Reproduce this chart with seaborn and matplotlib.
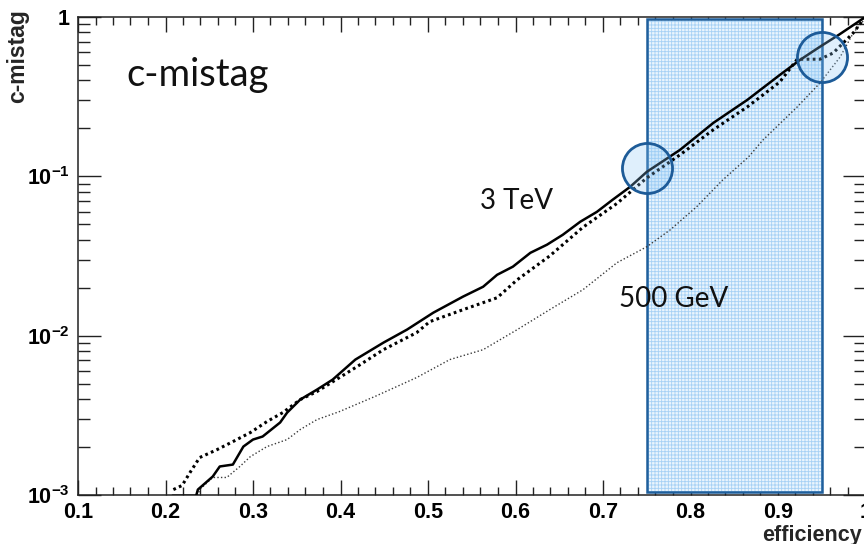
import numpy as np
import pandas as pd
import matplotlib
matplotlib.use("Agg")
import matplotlib.pyplot as plt
from matplotlib.ticker import FixedLocator, FixedFormatter, NullFormatter
import seaborn as sns

# ---- curves: c-jet mistag rate vs. tagging efficiency ----
eff_3tev = [0.208, 0.235, 0.237, 0.254, 0.262, 0.277, 0.289, 0.300, 0.311, 0.331,
            0.339, 0.354, 0.373, 0.391, 0.417, 0.449, 0.476, 0.506, 0.540, 0.563,
            0.579, 0.597, 0.617, 0.636, 0.654, 0.674, 0.693, 0.711, 0.731, 0.750,
            0.788, 0.826, 0.865, 0.902, 0.925, 0.947, 0.970, 0.999]
log_mistag_3tev = [-3.005, -3.005, -2.966, -2.884, -2.821, -2.809, -2.696, -2.652, -2.633, -2.545,
                   -2.483, -2.401, -2.339, -2.276, -2.150, -2.044, -1.962, -1.856, -1.755, -1.693,
                   -1.618, -1.567, -1.480, -1.429, -1.367, -1.285, -1.223, -1.147, -1.066, -0.972,
                   -0.834, -0.665, -0.520, -0.364, -0.270, -0.190, -0.110, -0.003]

eff_alt = [0.209, 0.219, 0.228, 0.239, 0.259, 0.277, 0.297, 0.316, 0.334, 0.354,
           0.373, 0.419, 0.449, 0.487, 0.502, 0.540, 0.579, 0.602, 0.639, 0.677,
           0.716, 0.750, 0.788, 0.826, 0.865, 0.902, 0.922, 0.948, 0.963, 0.986, 0.999]
log_mistag_alt = [-2.966, -2.940, -2.859, -2.765, -2.715, -2.665, -2.608, -2.539, -2.483, -2.401,
                  -2.351, -2.194, -2.088, -1.981, -1.912, -1.837, -1.762, -1.649, -1.500, -1.320,
                  -1.170, -1.010, -0.865, -0.708, -0.564, -0.408, -0.265, -0.265, -0.226, -0.100, -0.005]

eff_500gev = [0.237, 0.239, 0.254, 0.270, 0.285, 0.297, 0.316, 0.339, 0.354, 0.373,
              0.399, 0.440, 0.487, 0.525, 0.563, 0.602, 0.639, 0.677, 0.716, 0.750,
              0.777, 0.807, 0.837, 0.866, 0.883, 0.922, 0.948, 0.971, 0.986, 0.998]
log_mistag_500gev = [-3.005, -2.966, -2.890, -2.890, -2.821, -2.759, -2.696, -2.652, -2.589, -2.527,
                     -2.476, -2.380, -2.263, -2.150, -2.088, -1.962, -1.837, -1.712, -1.542, -1.442,
                     -1.335, -1.191, -1.022, -0.880, -0.771, -0.564, -0.414, -0.251, -0.100, -0.020]

# highlighted working-point window and the two marked points
window = [0.75, 0.95]
marked_eff = [0.75, 0.95]
marked_mistag = [0.113, 0.561]

x_ticks = [0.1, 0.2, 0.3, 0.4, 0.5, 0.6, 0.7, 0.8, 0.9, 1.0]
x_ticklabels = ["0.1", "0.2", "0.3", "0.4", "0.5", "0.6", "0.7", "0.8", "0.9", "1"]
y_ticks = [1e-3, 1e-2, 1e-1, 1.0]
y_ticklabels = [r"$\mathbf{10^{-3}}$", r"$\mathbf{10^{-2}}$", r"$\mathbf{10^{-1}}$", "1"]

sns.set_theme(style="ticks")
plt.rcParams.update({
    "font.family": ["Liberation Sans", "DejaVu Sans"],
    "mathtext.fontset": "custom",
    "mathtext.bf": "Liberation Sans:bold",
    "mathtext.rm": "Liberation Sans:bold",
    "hatch.linewidth": 0.6,
})

df_3tev = pd.DataFrame({"eff": eff_3tev, "mistag": 10 ** np.array(log_mistag_3tev)})
df_alt = pd.DataFrame({"eff": eff_alt, "mistag": 10 ** np.array(log_mistag_alt)})
df_500 = pd.DataFrame({"eff": eff_500gev, "mistag": 10 ** np.array(log_mistag_500gev)})

fig = plt.figure(figsize=(8.64, 5.44), dpi=100)
ax = fig.add_axes([78 / 864, 1 - 495 / 544, 787.5 / 864, 478 / 544])
ax.set_yscale("log")
ax.set_xlim(0.1, 1.0)
ax.set_ylim(1e-3, 1.0)

# working-point band: hatched light-blue fill plus a dark outline
ax.axvspan(window[0], window[1], ymin=0.006, ymax=0.996, facecolor="#e9f4fd",
           edgecolor="#a6d1f5", linewidth=0, hatch="+++++", zorder=1)
ax.axvspan(window[0], window[1], ymin=0.006, ymax=0.996, fill=False,
           edgecolor="#1f5f9c", linewidth=1.8, zorder=1.5)

sns.lineplot(data=df_500, x="eff", y="mistag", ax=ax, sort=False, estimator=None,
             color="#3a3a3a", linewidth=1.0, linestyle=(0, (1, 1.6)), zorder=3)
sns.lineplot(data=df_alt, x="eff", y="mistag", ax=ax, sort=False, estimator=None,
             color="black", linewidth=2.2, linestyle=(0, (0.9, 1.1)), zorder=3)
sns.lineplot(data=df_3tev, x="eff", y="mistag", ax=ax, sort=False, estimator=None,
             color="black", linewidth=1.8, linestyle="-", zorder=4)

ax.scatter(marked_eff, marked_mistag, s=1300, facecolors=[(0.55, 0.78, 0.96, 0.28)],
           edgecolors="#1d5b98", linewidths=2.0, zorder=5, clip_on=False)

ax.text(0.062, 0.879, "c-mistag", transform=ax.transAxes, family="Lato",
        fontsize=27.5, ha="left", va="center", color="#111111")
ax.text(0.557, 0.615, "3 TeV", transform=ax.transAxes, family="Lato",
        fontsize=20, ha="center", va="center", color="#111111")
ax.text(0.756, 0.410, "500 GeV", transform=ax.transAxes, family="Lato",
        fontsize=20, ha="center", va="center", color="#111111")

# ROOT-like frame: inward ticks on all four sides
ax.xaxis.set_major_locator(FixedLocator(x_ticks))
ax.xaxis.set_major_formatter(FixedFormatter(x_ticklabels))
ax.xaxis.set_minor_locator(FixedLocator(np.arange(0.12, 1.0, 0.02)))
ax.yaxis.set_major_locator(FixedLocator(y_ticks))
ax.yaxis.set_major_formatter(FixedFormatter(y_ticklabels))
minor_y = [k * 10.0 ** e for e in (-3, -2, -1) for k in range(2, 10)]
ax.yaxis.set_minor_locator(FixedLocator(minor_y))
ax.yaxis.set_minor_formatter(NullFormatter())

ax.tick_params(axis="x", which="major", direction="in", length=10.5, width=1.0,
               top=True, bottom=True, pad=5, labelsize=15.5, colors="#222222")
ax.tick_params(axis="x", which="minor", direction="in", length=5.5, width=1.0,
               top=True, bottom=True, colors="#222222")
ax.tick_params(axis="y", which="major", direction="in", length=16.5, width=1.0,
               left=True, right=True, pad=6, labelsize=15.5, colors="#222222")
ax.tick_params(axis="y", which="minor", direction="in", length=8.5, width=1.0,
               left=True, right=True, colors="#222222")
for lab in ax.get_xticklabels() + ax.get_yticklabels():
    lab.set_fontweight("bold")
    lab.set_color("black")
for sp in ax.spines.values():
    sp.set_visible(True)
    sp.set_linewidth(1.1)
    sp.set_color("#222222")

ax.set_xlabel("")
ax.set_ylabel("")
fig.text(18 / 864, 1 - 9 / 544, "c-mistag", rotation=90, ha="center", va="top",
         fontsize=16.5, fontweight="bold")
fig.text(862 / 864, 1 - 535 / 544, "efficiency", ha="right", va="center",
         fontsize=15.5, fontweight="bold")

fig.savefig("out.png", dpi=100)
